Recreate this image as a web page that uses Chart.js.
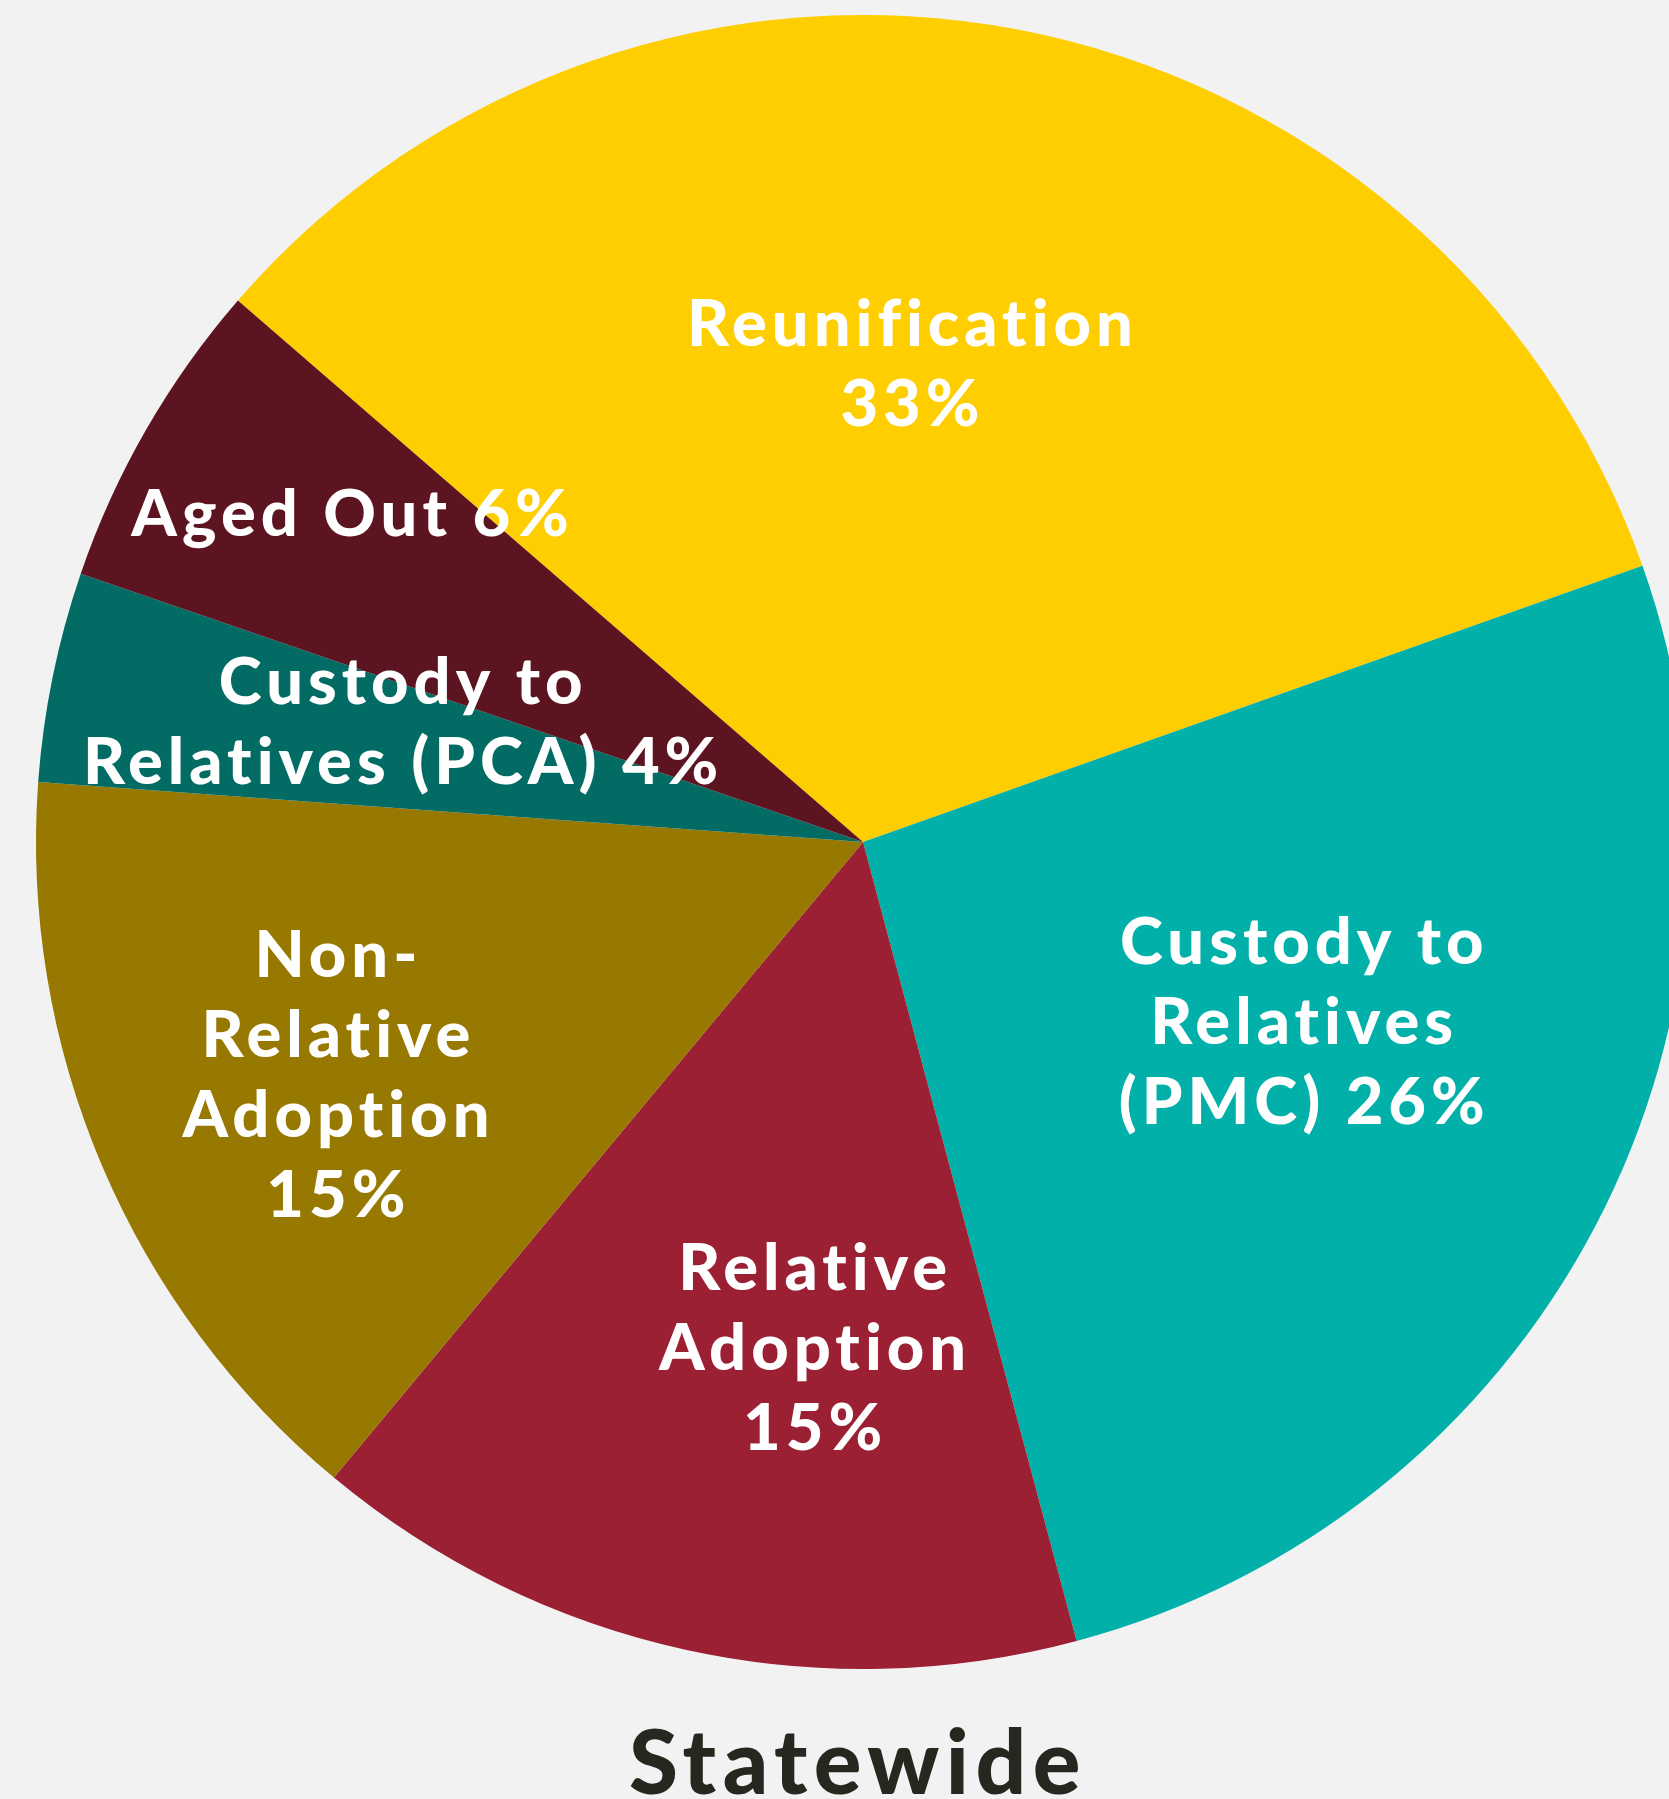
<!DOCTYPE html>
<html>
<head>
<meta charset="utf-8">
<title>Statewide</title>
<script src="https://cdn.jsdelivr.net/npm/chart.js@4.4.1/dist/chart.umd.min.js"></script>
<style>
  html, body { margin: 0; padding: 0; background: #f2f2f2; overflow: hidden; }
  body { width: 1669px; height: 1799px; position: relative; }
  #pie { position: absolute; left: 0; top: 0; }
</style>
</head>
<body>
<canvas id="pie" width="1700" height="1799"></canvas>
<script>
// exit outcomes, share of cases (%), clockwise from the Reunification slice
const categories = ['Reunification', 'Custody to Relatives (PMC)', 'Relative Adoption',
    'Non-Relative Adoption', 'Custody to Relatives (PCA)', 'Aged Out'];
const shares = [33.2, 26.25, 15.2, 15.1, 4.1, 6.1];
const colors = ['#ffce00', '#00b0a9', '#9c2033', '#977800', '#026b64', '#5c1420'];

// how each slice label is broken into lines; {p} is the rounded percentage
const labelLines = [
    ['Reunification', '{p}'],
    ['Custody to', 'Relatives', '(PMC) {p}'],
    ['Relative', 'Adoption', '{p}'],
    ['Non-', 'Relative', 'Adoption', '{p}'],
    ['Custody to', 'Relatives (PCA) {p}'],
    ['Aged Out {p}']
];
// label anchor: angle clockwise from 12 o'clock (deg) and fraction of radius
const labelAngle = [5.6, 112.2, 185.7, 246.3, 284.7, 302.7];
const labelRadius = [0.582, 0.573, 0.613, 0.696, 0.578, 0.737];

const chartTitle = 'Statewide';

const sliceLabels = {
    id: 'sliceLabels',
    afterDatasetsDraw(chart) {
        const ctx = chart.ctx;
        const arcs = chart.getDatasetMeta(0).data;
        const size = 65, lineH = 80, spacing = 5;
        ctx.save();
        ctx.fillStyle = '#ffffff';
        ctx.font = '900 ' + size + 'px Lato';
        ctx.letterSpacing = spacing + 'px';
        ctx.textAlign = 'center';
        ctx.textBaseline = 'alphabetic';
        arcs.forEach((arc, i) => {
            const a = labelAngle[i] * Math.PI / 180;
            const r = arc.outerRadius * labelRadius[i];
            const cx = arc.x + r * Math.sin(a);
            const cy = arc.y - r * Math.cos(a);
            const pct = Math.round(shares[i]) + '%';
            const lines = labelLines[i].map(t => t.replace('{p}', pct));
            lines.forEach((t, k) => {
                const y = cy + (k - (lines.length - 1) / 2) * lineH + size * 0.36;
                ctx.fillText(t, cx + spacing / 2, y);
            });
        });

        // caption under the pie
        const arc0 = arcs[0];
        ctx.fillStyle = '#28271f';
        ctx.font = '900 89px Lato';
        ctx.letterSpacing = '6.5px';
        ctx.fillText(chartTitle, arc0.x - 5, arc0.y + arc0.outerRadius + 125);
        ctx.restore();
    }
};

const ctx = document.getElementById('pie').getContext('2d');
const pieChart = new Chart(ctx, {
    type: 'pie',
    data: {
        labels: categories,
        datasets: [{
            data: shares,
            backgroundColor: colors,
            borderWidth: 0
        }]
    },
    options: {
        responsive: false,
        animation: false,
        rotation: -49.1,
        layout: {
            padding: { left: 36, top: 15, right: 10, bottom: 130 }
        },
        plugins: {
            legend: { display: false },
            tooltip: { enabled: false },
            title: { display: false }
        }
    },
    plugins: [sliceLabels]
});
</script>
</body>
</html>
